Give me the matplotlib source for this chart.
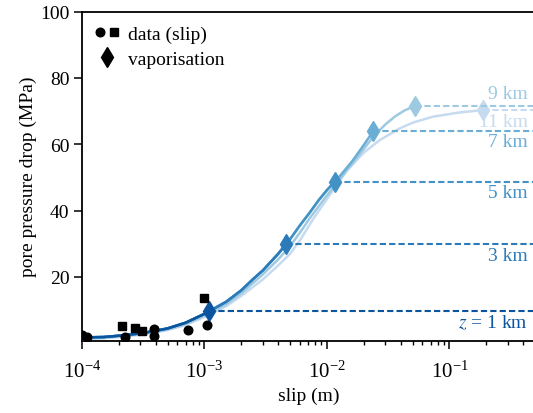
import matplotlib
matplotlib.use("Agg")
import matplotlib.pyplot as plt
from matplotlib.lines import Line2D
from matplotlib.legend_handler import HandlerTuple

plt.rcParams['font.family'] = ['Liberation Serif', 'DejaVu Serif']
plt.rcParams['mathtext.fontset'] = 'stix'
plt.rcParams['font.size'] = 14

# ---------------- data ----------------
depth_labels = ["$z$ = 1 km", "3 km", "5 km", "7 km", "9 km", "11 km"]
colors = ["#0b559f", "#2b7bba", "#4292c6", "#6aaed6", "#9dc9e1", "#c6dbef"]

# vaporisation points (slip, pressure drop)
vap_slip = [1.08e-3, 4.62e-3, 1.16e-2, 2.39e-2, 5.22e-2, 1.89e-1]
vap_p = [9.65, 29.8, 48.7, 64.0, 71.5, 70.3]

# shared curve for z = 1..7 km
slip_base = [1.0e-4, 1.5e-4, 2e-4, 3e-4, 4e-4, 5e-4, 7e-4, 1e-3, 1.5e-3, 2e-3,
             2.5e-3, 3e-3, 4e-3, 5e-3, 6e-3, 7.26e-3, 8.5e-3, 1e-2, 1.3e-2,
             1.6e-2, 2e-2]
p_base = [1.8, 1.9, 2.3, 3.0, 3.8, 4.5, 6.2, 8.9, 12.5, 16.0,
          19.4, 22.0, 27.0, 31.4, 35.5, 39.5, 43.0, 46.2, 50.8,
          54.8, 59.8]

# 9 km curve
slip_9 = [1.0e-4, 1.5e-4, 2e-4, 3e-4, 4e-4, 5e-4, 7e-4, 1e-3, 1.5e-3, 2e-3,
          3e-3, 4e-3, 5e-3, 6e-3, 7.26e-3, 1e-2, 1.16e-2, 1.5e-2, 2e-2,
          2.39e-2, 3e-2, 3.6e-2, 4.3e-2]
p_9 = [1.5, 1.7, 2.1, 2.8, 3.5, 4.2, 5.8, 8.4, 11.8, 15.1,
       20.8, 25.3, 29.3, 33.3, 37.8, 44.6, 47.6, 52.8, 58.6,
       62.3, 66.0, 68.4, 70.2]

# 11 km curve
slip_11 = [1.0e-4, 1.5e-4, 2e-4, 3e-4, 4e-4, 5e-4, 7e-4, 1e-3, 1.5e-3, 2e-3,
           3e-3, 4e-3, 5e-3, 6e-3, 7.73e-3, 1e-2, 1.45e-2, 2e-2, 2.71e-2,
           3.94e-2, 5e-2, 7.33e-2, 1.22e-1]
p_11 = [1.3, 1.5, 1.9, 2.6, 3.3, 4.0, 5.5, 8.0, 11.2, 14.3,
        19.3, 23.5, 27.0, 31.0, 37.5, 43.5, 52.0, 57.5, 61.3,
        64.8, 66.5, 68.3, 69.6]

# measured data
circle_slip = [1.0e-4, 1.1e-4, 2.24e-4, 3.87e-4, 3.87e-4, 7.3e-4, 1.05e-3]
circle_p = [2.5, 2.0, 1.8, 4.3, 2.3, 4.0, 5.6]
square_slip = [2.11e-4, 2.7e-4, 3.1e-4, 9.85e-4]
square_p = [5.2, 4.6, 3.8, 13.7]

x_max = 0.5

# ---------------- plot ----------------
fig = plt.figure(figsize=(5.33, 4.14), dpi=100)
ax = fig.add_axes([82/533, 1 - 341.7/414, (535.1 - 82)/533, (341.7 - 12.5)/414])

curves = []
for i in range(4):
    xs = [s for s in slip_base if s < vap_slip[i]] + [vap_slip[i]]
    ys = [p for s, p in zip(slip_base, p_base) if s < vap_slip[i]] + [vap_p[i]]
    curves.append((xs, ys))
curves.append((slip_9 + [vap_slip[4]], p_9 + [vap_p[4]]))
curves.append((slip_11 + [vap_slip[5]], p_11 + [vap_p[5]]))

label_offsets = [-11, -11, -11, -11, 13, -11]

for i in reversed(range(6)):
    xs, ys = curves[i]
    z = 10 - i
    ax.plot(xs, ys, color=colors[i], lw=1.8, zorder=z, solid_capstyle='round')
    ax.plot([vap_slip[i], x_max], [vap_p[i], vap_p[i]], color=colors[i],
            lw=1.5, linestyle=(0, (3, 1.5)), zorder=z)
    ax.plot([vap_slip[i]], [vap_p[i]], marker='d', ms=10, color=colors[i],
            zorder=z + 0.5, linestyle='none')
    ax.annotate(depth_labels[i], xy=(1, vap_p[i]),
                xycoords=('axes fraction', 'data'),
                xytext=(-7, label_offsets[i]), textcoords='offset pixels',
                ha='right', va='center', color=colors[i], fontsize=14)

ax.plot(circle_slip, circle_p, 'o', color='black', ms=6.2, zorder=20, linestyle='none')
ax.plot(square_slip, square_p, 's', color='black', ms=6.0, zorder=20, linestyle='none')

ax.set_xscale('log')
ax.set_xlim(1e-4, x_max)
ax.set_ylim(0.8, 100)
ax.set_yticks([20, 40, 60, 80, 100])
ax.set_xlabel('slip (m)', fontsize=14, labelpad=3)
ax.set_ylabel('pore pressure drop (MPa)', fontsize=14, labelpad=2)

for s in ['left', 'bottom', 'top', 'right']:
    ax.spines[s].set_linewidth(1.3)
ax.tick_params(which='major', direction='out', length=5.5, width=1.1, labelsize=14)
ax.tick_params(which='minor', direction='out', length=3.2, width=1.0)
ax.tick_params(axis='x', which='major', pad=9, labelsize=15)

h_data = (Line2D([], [], marker='o', color='black', ms=6.2, linestyle='none'),
          Line2D([], [], marker='s', color='black', ms=6.0, linestyle='none'))
h_vap = Line2D([], [], marker='d', color='black', ms=10, linestyle='none')
ax.legend([h_data, h_vap], ['data (slip)', 'vaporisation'],
          handler_map={tuple: HandlerTuple(ndivide=None, pad=0.2)},
          loc='upper left', frameon=False, fontsize=14, handlelength=1.2,
          handletextpad=0.45, borderaxespad=0.3, labelspacing=0.4)

fig.savefig('out.png', dpi=100)
